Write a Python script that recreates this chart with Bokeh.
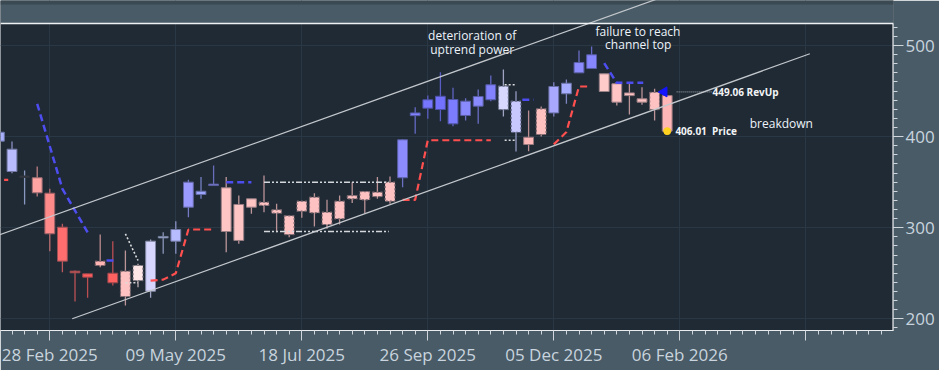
import math
from bokeh.plotting import figure
from bokeh.models import (Range1d, FixedTicker, Label, ColumnDataSource, BoxAnnotation, Span)
from bokeh.embed import file_html
from bokeh.resources import INLINE

# ---------------- data ----------------
weeks = list(range(-4, 50))
opens = [395.0, 361.7, 356.5, 354.8, 337.9, 300.6, 252.3, 249.4, 263.3, 250.1,
         252.3, 258.5, 230.3, 289.0, 285.2, 322.5, 336.4, 346.3, 343.8, 325.5,
         331.7, 328.0, 319.6, 313.0, 329.1, 333.5, 317.0, 329.1, 335.3, 339.7,
         339.0, 350.0, 354.8, 423.0, 431.2, 429.7, 414.0, 423.2, 433.4, 440.4,
         429.7, 404.8, 399.3, 430.5, 426.0, 447.0, 470.0, 474.8, 468.9, 458.0,
         448.0, 441.5, 448.7, 445.0]
highs = [408.0, 394.6, 362.8, 367.2, 342.7, 304.3, 253.0, 249.4, 292.5, 285.2,
         275.0, 260.3, 287.0, 295.0, 307.2, 352.6, 355.6, 368.3, 355.6, 335.3,
         331.7, 357.3, 326.2, 313.0, 329.1, 337.9, 330.6, 335.3, 350.0, 339.7,
         355.6, 356.2, 397.1, 432.3, 445.0, 470.7, 453.6, 442.2, 451.7, 467.0,
         473.7, 449.8, 428.6, 433.0, 459.7, 462.7, 494.5, 498.9, 468.9, 458.0,
         458.0, 454.2, 452.5, 445.0]
lows = [392.0, 359.8, 325.5, 334.2, 274.2, 251.2, 219.0, 223.0, 256.7, 236.6,
        214.6, 234.7, 223.0, 271.3, 271.3, 311.6, 331.7, 346.3, 273.1, 282.3,
        315.3, 317.0, 295.0, 289.6, 310.9, 301.3, 298.8, 303.5, 327.0, 315.3,
        331.7, 326.2, 344.5, 403.0, 419.5, 416.9, 411.4, 417.7, 414.0, 438.9,
        422.0, 383.6, 384.0, 400.0, 422.0, 436.0, 470.0, 474.8, 449.5, 434.1,
        424.3, 434.9, 417.7, 406.01]
closes = [404.8, 386.2, 355.5, 338.3, 293.3, 263.3, 250.5, 245.7, 258.5, 239.5,
          224.5, 242.0, 285.2, 290.2, 298.0, 350.0, 340.0, 347.8, 295.8, 286.0,
          322.5, 324.4, 316.0, 292.5, 318.1, 316.3, 303.5, 309.8, 331.7, 330.6,
          334.2, 329.1, 396.5, 426.0, 440.4, 444.3, 440.7, 438.9, 444.0, 456.9,
          455.3, 438.9, 391.3, 402.3, 455.0, 458.6, 481.3, 489.8, 449.5, 437.8,
          445.0, 437.8, 429.7, 406.01]

tick_weeks = [0, 10, 20, 30, 40, 50, 60]
tick_labels = ["28 Feb 2025", "09 May 2025", "18 Jul 2025", "26 Sep 2025",
               "05 Dec 2025", "06 Feb 2026", ""]
price_ticks = [200, 300, 400, 500]

# stop lines (red = long stop, blue = reversal-up)
red_x = [[-4.5, -3.3], [8, 9, 10, 11, 12, 13], [28, 29, 30, 35], [40, 41, 42, 42.8]]
red_y = [[352.6, 352.6], [242, 243, 250, 298, 298, 298], [330.6, 330.6, 396, 396],
         [391.5, 405, 455, 455]]
blue_x = [[-1, 1, 3], [4.5, 5.35], [14, 16], [37.5, 38.4], [44, 45, 47.1]]
blue_y = [[436, 342.7, 295], [264, 264], [350, 350], [440.4, 440.4], [480.6, 459, 459]]

# white dash-dot range lines and dotted markers
range_x = [17, 26.9]
range_hi = 350.0
range_lo = 295.8
dot_x = [[6, 7], [6, 7], [36.1, 37.0], [36.1, 37.0]]
dot_y = [[293.3, 264.0], [239.5, 239.5], [456.9, 456.9], [396.0, 396.0]]

# trend channel
lower_x = [1.78, 60.32]
lower_y = [200.0, 490.9]
upper_x = [-6.0, 50.0]
upper_y = [282.2, 560.0]

revup_value = 449.06
price_value = 406.01
last_week = 49

# ---------------- styles ----------------
BG = "#1f2a35"
BORDER = "#485b67"
X_LO, X_HI = -3.913, 66.96
Y_LO, Y_TOP, Y_HI = 187.16, 524.15, 549.4   # Y_TOP = top edge of the price pane

fills = ["#aab2ff", "#b9bcff", "#3c3c44", "#ffa3a3", "#ff8a8a", "#ff6e6e", "#ff6464",
         "#ff5e5e", "#ffb4b4", "#ff6060", "#ffc2c2", "#ffe6e6", "#d6d6ff", "#b8c2ec",
         "#b7bbff", "#9a9aff", "#9ca6ff", "#8a8af2", "#ffc4c4", "#ffc4c4", "#ffc4c4"] + \
        ["#ffc2c2"] * 11 + \
        ["#8c8cff", "#8282ff", "#7676ff", "#7272ff", "#7c7cff", "#8a8aff", "#8a8aff",
         "#8282ff", "#d8d8ff", "#c8c8ff", "#ffb8b8", "#ffc0c0", "#a8a8ff", "#a8aeff",
         "#8c8cff", "#8686ff", "#ffcaca", "#ffc4c4", "#ffc2c2", "#ffc2c2", "#ffc2c2",
         "#ffb6b6"]
dotted_weeks = {4, 6, 7, 17, 18, 19, 20, 21, 22, 23, 24, 25, 26, 27, 36, 37, 39, 48}


def mix(c, t, bg=BG):
    a = [int(c[i:i + 2], 16) for i in (1, 3, 5)]
    b = [int(bg[i:i + 2], 16) for i in (1, 3, 5)]
    return "#%02x%02x%02x" % tuple(round(a[k] * (1 - t) + b[k] * t) for k in range(3))


wick_colors = [mix(c, 0.3) for c in fills]
wick_colors[2] = "#8898c0"

p = figure(width=939, height=370,
           x_range=Range1d(X_LO, X_HI), y_range=Range1d(Y_LO, Y_HI),
           output_backend="svg", toolbar_location=None, y_axis_location="right",
           min_border_left=0, min_border_right=46, min_border_top=0, min_border_bottom=40,
           background_fill_color=BG, border_fill_color=BORDER, outline_line_color=None)

# axes
xa = p.xaxis[0]
xa.ticker = FixedTicker(ticks=tick_weeks, minor_ticks=list(range(-3, 67)))
xa.major_label_overrides = {w: l for w, l in zip(tick_weeks, tick_labels)}
ya = p.yaxis[0]
ya.ticker = FixedTicker(ticks=price_ticks, minor_ticks=list(range(190, 521, 10)))
for ax in (xa, ya):
    ax.major_tick_out = 10
    ax.major_tick_in = 0
    ax.minor_tick_out = 4
    ax.minor_tick_in = 0
    ax.axis_line_color = "#e8ecef"
    ax.major_tick_line_color = "#d0d6dc"
    ax.minor_tick_line_color = "#d0d6dc"
    ax.major_label_text_color = "#c9d4de"
    ax.major_label_text_font = "Open Sans"
    ax.major_label_text_font_size = "17px"
ya.axis_line_color = None
ya.major_label_standoff = 2
xa.major_label_standoff = 2

p.xgrid.grid_line_color = "#2a3744"
p.ygrid.grid_line_color = "#2a3744"

# candles
p.segment(x0="x", y0="high", x1="x", y1="low", line_color="color", line_width=1.3,
          source=ColumnDataSource(dict(x=weeks, high=highs, low=lows, color=wick_colors)))


def body_source(dotted):
    d = dict(x=[], top=[], bottom=[], fill=[], edge=[])
    for w, o, c, f in zip(weeks, opens, closes, fills):
        if (w in dotted_weeks) != dotted:
            continue
        hi, lo = max(o, c), min(o, c)
        if hi - lo < 1.6:
            mid = (hi + lo) / 2
            hi, lo = mid + 0.8, mid - 0.8
        d["x"].append(w)
        d["top"].append(hi)
        d["bottom"].append(lo)
        d["fill"].append(f)
        d["edge"].append(mix(f, 0.6 if dotted else 0.45))
    return ColumnDataSource(d)


p.vbar(x="x", top="top", bottom="bottom", width=0.78, fill_color="fill",
       line_color="edge", line_width=1, source=body_source(False))
p.vbar(x="x", top="top", bottom="bottom", width=0.78, fill_color="fill",
       line_color="edge", line_width=1.2, line_dash="2 2", source=body_source(True))

# range lines
for lvl in (range_hi, range_lo):
    p.line(range_x, [lvl, lvl], line_color="#d4d8dc", line_width=1.5, line_dash="6 2 2 2 2 2")
for xs, ys in zip(dot_x, dot_y):
    p.line(xs, ys, line_color="#dcdcdc", line_width=1.6, line_dash="2 2")

# stop lines
for xs, ys in zip(red_x, red_y):
    p.line(xs, ys, line_color="#ff4f4f", line_width=2.2, line_dash="7 4")
for xs, ys in zip(blue_x, blue_y):
    p.line(xs, ys, line_color="#4d4df0", line_width=2.5, line_dash="7 4")

# strip above the price pane (the channel line runs across it)
p.add_layout(BoxAnnotation(bottom=Y_TOP, fill_color=BORDER, fill_alpha=1, line_color=None,
                           level="annotation"))
p.add_layout(BoxAnnotation(bottom=Y_HI - 4.4, fill_color="#3b4952", fill_alpha=1,
                           line_color=None, level="annotation"))
p.add_layout(Span(location=Y_TOP, dimension="width", line_color="#eef1f3", line_width=1.6,
                  level="overlay"))
p.segment(x0=[X_HI - 0.04], y0=[Y_LO], x1=[X_HI - 0.04], y1=[Y_TOP],
          line_color="#e8ecef", line_width=1.2, level="overlay")

# channel
p.line(lower_x, lower_y, line_color="#c4c8cc", line_width=1.2, level="overlay")
p.line(upper_x, upper_y, line_color="#c4c8cc", line_width=1.2, level="overlay")

# current values
p.line([last_week + 0.75, last_week + 3.55], [revup_value, revup_value],
       line_color="#a8aeb4", line_width=1, line_dash="1 1")
p.scatter([last_week - 0.25], [revup_value], marker="triangle", size=10, angle=math.pi / 2,
          fill_color="#1414ff", line_color="#1414ff")
p.scatter([last_week], [price_value], marker="circle", size=7,
          fill_color="#ffd21f", line_color="#ffd21f")

small = dict(text_font="Open Sans", text_font_size="10px", text_font_style="bold",
             text_color="#f2f4f6", text_baseline="middle")
p.add_layout(Label(x=last_week + 3.6, y=revup_value, text="%.2f RevUp" % revup_value, **small))
p.add_layout(Label(x=last_week + 0.65, y=price_value, text="%.2f\u00a0 Price" % price_value,
                   **small))

big = dict(text_font="Open Sans", text_font_size="12px", text_color="#eef3fa",
           text_align="center", text_baseline="middle")
for x, y, t in ((33.52, 511.3, "deterioration of"), (33.52, 495.3, "uptrend power"),
                (46.68, 515.7, "failure to reach"), (46.7, 500.8, "channel top"),
                (58.06, 414.7, "breakdown")):
    p.add_layout(Label(x=x, y=y, text=t, **big))

open("out.html", "w").write(file_html(p, INLINE))
